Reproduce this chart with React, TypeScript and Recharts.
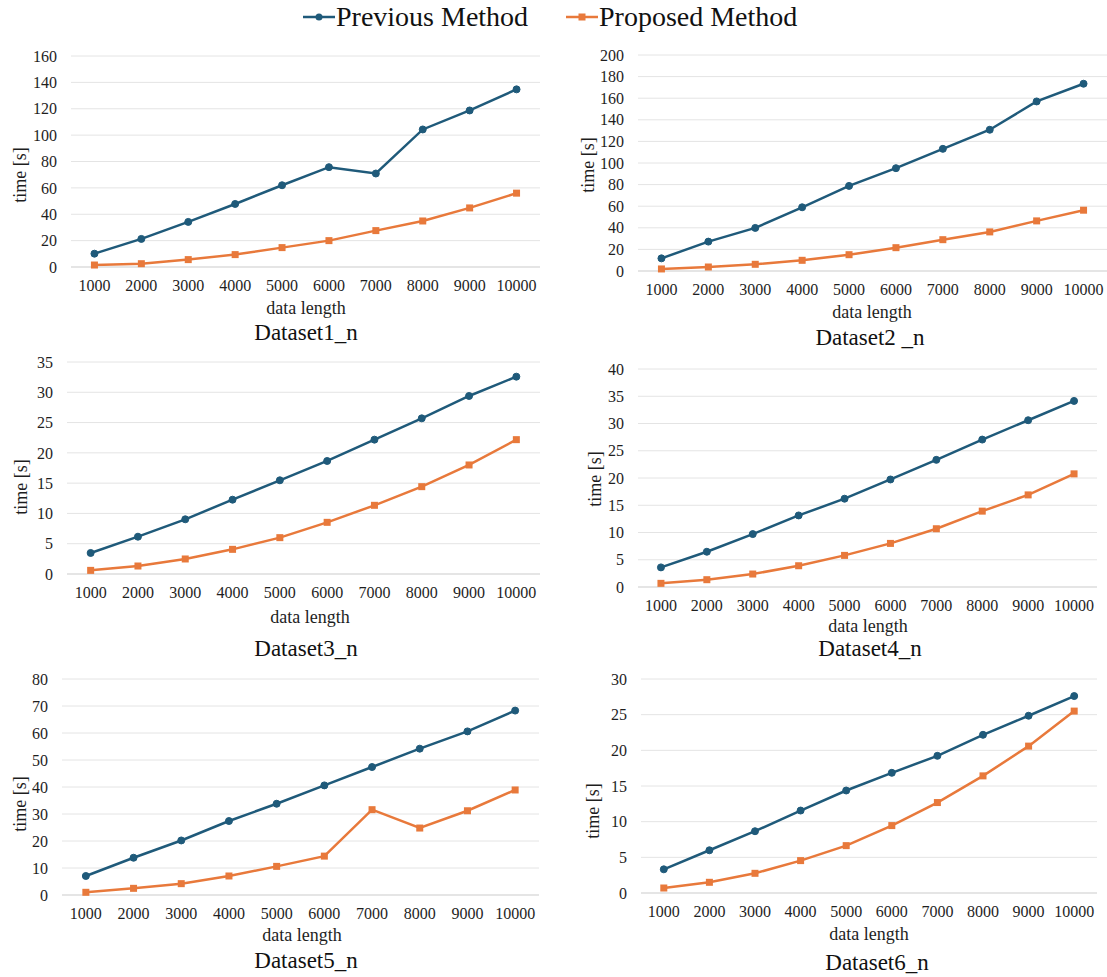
import { LineChart, Line, XAxis, YAxis, CartesianGrid } from "recharts";

const lengths = ["1000", "2000", "3000", "4000", "5000", "6000", "7000", "8000", "9000", "10000"];

const ds1Prev = [10.1, 21.3, 34.2, 47.8, 62, 75.7, 70.9, 104.3, 118.7, 134.7];
const ds1Prop = [1.5, 2.5, 5.6, 9.4, 14.7, 20, 27.6, 34.9, 44.8, 56];
const ds2Prev = [11.7, 27.2, 39.9, 59, 78.8, 95.2, 113.1, 130.8, 157, 173.4];
const ds2Prop = [1.9, 3.7, 6.2, 9.9, 15.1, 21.6, 29, 36.2, 46.4, 56.3];
const ds3Prev = [3.47, 6.16, 9.03, 12.27, 15.47, 18.66, 22.18, 25.7, 29.39, 32.58];
const ds3Prop = [0.6, 1.32, 2.48, 4.07, 6.0, 8.53, 11.34, 14.42, 18.0, 22.18];
const ds4Prev = [3.6, 6.47, 9.71, 13.13, 16.2, 19.73, 23.33, 27.05, 30.6, 34.14];
const ds4Prop = [0.67, 1.34, 2.38, 3.9, 5.8, 8.0, 10.69, 13.92, 16.9, 20.76];
const ds5Prev = [7.04, 13.8, 20.2, 27.4, 33.8, 40.6, 47.4, 54.2, 60.6, 68.3];
const ds5Prop = [1.0, 2.47, 4.2, 7.04, 10.6, 14.4, 31.6, 24.8, 31.2, 38.9];
const ds6Prev = [3.32, 5.99, 8.66, 11.56, 14.37, 16.85, 19.23, 22.18, 24.85, 27.61];
const ds6Prop = [0.7, 1.5, 2.76, 4.54, 6.64, 9.45, 12.68, 16.42, 20.59, 25.5];

const ticks1 = [0, 20, 40, 60, 80, 100, 120, 140, 160];
const ticks2 = [0, 20, 40, 60, 80, 100, 120, 140, 160, 180, 200];
const ticks3 = [0, 5, 10, 15, 20, 25, 30, 35];
const ticks4 = [0, 5, 10, 15, 20, 25, 30, 35, 40];
const ticks5 = [0, 10, 20, 30, 40, 50, 60, 70, 80];
const ticks6 = [0, 5, 10, 15, 20, 25, 30];

const BLUE = "#1f5a7a";
const ORANGE = "#e8793b";
const FONT = "'Liberation Serif', 'Times New Roman', serif";
const INK = "#1e1e1e";

const SquareDot = (props: any) => {
  const { cx, cy } = props;
  if (cx == null || cy == null) return null;
  return <rect x={cx - 3.5} y={cy - 3.5} width={7} height={7} fill={ORANGE} />;
};

interface PanelProps {
  title: string;
  prev: number[];
  prop: number[];
  ticks: number[];
  box: { left: number; right: number; top: number; bottom: number };
  yLabel: { x: number; y: number };
  xLabel: { x: number; y: number };
  titlePos: { x: number; y: number };
}

function Panel({ title, prev, prop, ticks, box, yLabel, xLabel, titlePos }: PanelProps) {
  const data = lengths.map((n, i) => ({ n, prev: prev[i], prop: prop[i] }));
  const yW = 60;
  const plotW = box.right - box.left;
  const pad = plotW / (lengths.length * 2);
  const w = plotW + yW + 5;
  const h = box.bottom - box.top + 10 + 40;
  return (
    <>
      <div style={{ position: "absolute", left: box.left - yW, top: box.top - 10 }}>
        <LineChart width={w} height={h} data={data} margin={{ top: 10, right: 5, left: 0, bottom: 0 }}>
          <CartesianGrid vertical={false} stroke="#e4e4e4" strokeWidth={1} />
          <XAxis
            dataKey="n"
            interval={0}
            height={40}
            padding={{ left: pad, right: pad }}
            tickLine={false}
            axisLine={{ stroke: "#d9d9d9" }}
            tickMargin={7}
            tick={{ fontSize: 16, fill: INK, fontFamily: FONT }}
          />
          <YAxis
            width={yW}
            domain={[0, ticks[ticks.length - 1]]}
            ticks={ticks}
            interval={0}
            axisLine={false}
            tickLine={false}
            tickMargin={8}
            tick={{ fontSize: 16, fill: INK, fontFamily: FONT }}
          />
          <Line
            dataKey="prev"
            stroke={BLUE}
            strokeWidth={2.5}
            dot={{ r: 3.5, fill: BLUE, stroke: BLUE, strokeWidth: 1 }}
            isAnimationActive={false}
          />
          <Line
            dataKey="prop"
            stroke={ORANGE}
            strokeWidth={2.5}
            dot={<SquareDot />}
            isAnimationActive={false}
          />
        </LineChart>
      </div>
      <div
        style={{
          position: "absolute",
          left: yLabel.x,
          top: yLabel.y,
          transform: "translate(-50%, -50%) rotate(-90deg)",
          fontSize: 18,
          color: INK,
          whiteSpace: "nowrap",
        }}
      >
        time [s]
      </div>
      <div
        style={{
          position: "absolute",
          left: xLabel.x,
          top: xLabel.y,
          transform: "translate(-50%, -50%)",
          fontSize: 18,
          color: INK,
          whiteSpace: "nowrap",
        }}
      >
        data length
      </div>
      <div
        style={{
          position: "absolute",
          left: titlePos.x,
          top: titlePos.y,
          transform: "translate(-50%, -50%)",
          fontSize: 23,
          color: "#111",
          whiteSpace: "nowrap",
        }}
      >
        {title}
      </div>
    </>
  );
}

function LegendItem({ label, color, square }: { label: string; color: string; square?: boolean }) {
  return (
    <div style={{ display: "flex", alignItems: "center" }}>
      <svg width={32} height={10} style={{ marginRight: 1 }}>
        <line x1={0} y1={5} x2={32} y2={5} stroke={color} strokeWidth={2.5} />
        {square ? <rect x={12.5} y={1.5} width={7} height={7} fill={color} /> : <circle cx={16} cy={5} r={3.5} fill={color} />}
      </svg>
      <span style={{ fontSize: 28, color: "#111" }}>{label}</span>
    </div>
  );
}

export default function App() {
  return (
    <div
      style={{
        position: "absolute",
        left: 0,
        top: 0,
        width: 1107,
        height: 977,
        overflow: "hidden",
        background: "#fff",
        fontFamily: FONT,
      }}
    >
      <div style={{ position: "absolute", left: 303, top: 0, height: 34, display: "flex", alignItems: "center" }}>
        <LegendItem label="Previous Method" color={BLUE} />
      </div>
      <div style={{ position: "absolute", left: 566, top: 0, height: 34, display: "flex", alignItems: "center" }}>
        <LegendItem label="Proposed Method" color={ORANGE} square />
      </div>

      <Panel
        title="Dataset1_n"
        prev={ds1Prev}
        prop={ds1Prop}
        ticks={ticks1}
        box={{ left: 71, right: 540, top: 56, bottom: 267 }}
        yLabel={{ x: 20, y: 175 }}
        xLabel={{ x: 306, y: 308 }}
        titlePos={{ x: 306, y: 333 }}
      />
      <Panel
        title="Dataset2 _n"
        prev={ds2Prev}
        prop={ds2Prop}
        ticks={ticks2}
        box={{ left: 638, right: 1107, top: 55, bottom: 271 }}
        yLabel={{ x: 588, y: 165 }}
        xLabel={{ x: 872, y: 312 }}
        titlePos={{ x: 870, y: 338 }}
      />
      <Panel
        title="Dataset3_n"
        prev={ds3Prev}
        prop={ds3Prop}
        ticks={ticks3}
        box={{ left: 67, right: 540, top: 362, bottom: 574 }}
        yLabel={{ x: 21, y: 487 }}
        xLabel={{ x: 310, y: 617 }}
        titlePos={{ x: 306, y: 649 }}
      />
      <Panel
        title="Dataset4_n"
        prev={ds4Prev}
        prop={ds4Prop}
        ticks={ticks4}
        box={{ left: 638, right: 1097, top: 369, bottom: 587 }}
        yLabel={{ x: 595, y: 479 }}
        xLabel={{ x: 868, y: 626 }}
        titlePos={{ x: 870, y: 649 }}
      />
      <Panel
        title="Dataset5_n"
        prev={ds5Prev}
        prop={ds5Prop}
        ticks={ticks5}
        box={{ left: 62, right: 539, top: 679, bottom: 895 }}
        yLabel={{ x: 20, y: 804 }}
        xLabel={{ x: 302, y: 935 }}
        titlePos={{ x: 306, y: 961 }}
      />
      <Panel
        title="Dataset6_n"
        prev={ds6Prev}
        prop={ds6Prop}
        ticks={ticks6}
        box={{ left: 641, right: 1097, top: 679, bottom: 893 }}
        yLabel={{ x: 593, y: 811 }}
        xLabel={{ x: 869, y: 934 }}
        titlePos={{ x: 877, y: 963 }}
      />
    </div>
  );
}
